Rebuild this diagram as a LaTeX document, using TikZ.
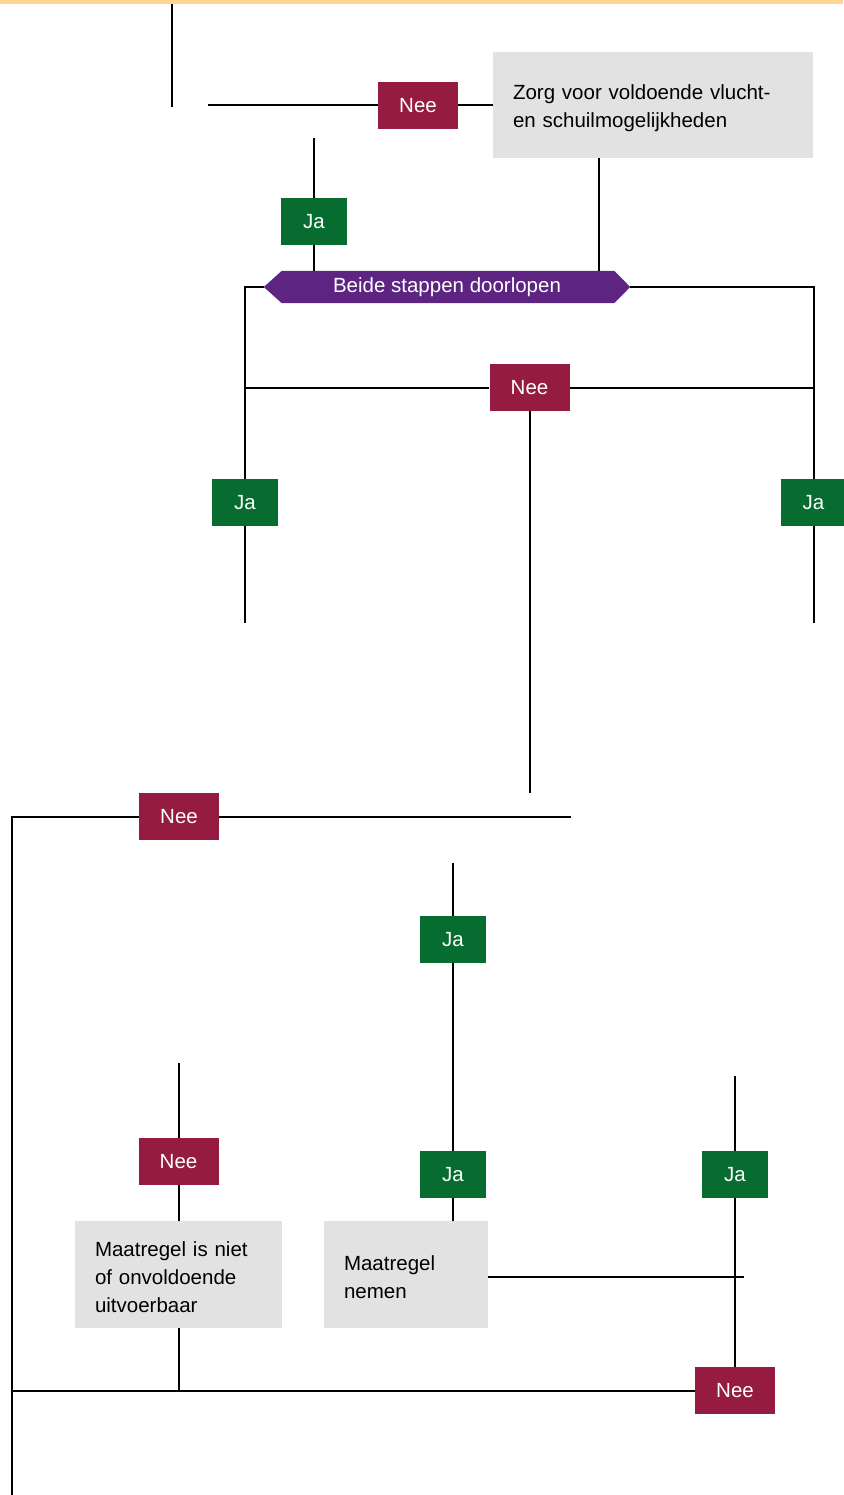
\documentclass[tikz,border=0pt]{standalone}
\usepackage{fontspec}
\setmainfont{Liberation Sans}
\usetikzlibrary{backgrounds}
\definecolor{neecol}{HTML}{951C40}
\definecolor{jacol}{HTML}{066C2F}
\definecolor{hexcol}{HTML}{5D2482}
\definecolor{boxcol}{HTML}{E2E2E2}
\definecolor{stripecol}{HTML}{FFD591}
\tikzset{
  conn/.style={draw=black, line width=2pt},
  neebox/.style={rectangle, fill=neecol, text=white, minimum width=80pt, minimum height=47pt, inner sep=0pt, font=\fontsize{20.5}{24}\selectfont},
  jabox/.style={rectangle, fill=jacol, text=white, minimum width=66pt, minimum height=47pt, inner sep=0pt, font=\fontsize{20.5}{24}\selectfont},
  infobox/.style={rectangle, fill=boxcol, text=black, inner xsep=20pt, inner ysep=0pt, align=left, font=\fontsize{20.5}{28}\selectfont, execute at begin node=\rule{0pt}{20.5pt}},
  hexlabel/.style={rectangle, text=white, minimum width=366pt, minimum height=32pt, inner sep=0pt, font=\fontsize{20.5}{24}\selectfont}
}
\begin{document}
\begin{tikzpicture}[x=1pt,y=-1pt]
\useasboundingbox (0,0) rectangle (843,1495);
\fill[stripecol] (0,0) rectangle (843,4);

% boxes
\node[infobox, minimum width=320pt, minimum height=106pt, text width=280pt] (box1) at (653,105) {Zorg voor voldoende vlucht-\\en schuilmogelijkheden};
\node[infobox, minimum width=207pt, minimum height=107pt, text width=167pt] (box2) at (178.5,1274.5) {Maatregel is niet\\of onvoldoende\\uitvoerbaar};
\node[infobox, minimum width=164pt, minimum height=107pt, text width=124pt] (box3) at (406,1274.5) {Maatregel\\nemen};

% hexagon
\node[hexlabel] (hex) at (447,287) {Beide stappen doorlopen};
\begin{scope}[on background layer]
\fill[hexcol] (hex.west) -- ([xshift=18pt]hex.north west) -- ([xshift=-16pt]hex.north east) -- (hex.east) -- ([xshift=-16pt]hex.south east) -- ([xshift=18pt]hex.south west) -- cycle;
\end{scope}

% labels
\node[neebox] (nee1) at (418,105.5) {Nee};
\node[jabox] (ja1) at (314,221.5) {Ja};
\node[neebox] (nee2) at (529.5,387.5) {Nee};
\node[jabox] (ja2) at (245,502.5) {Ja};
\node[jabox] (ja3) at (813.5,502.5) {Ja};
\node[neebox] (nee3) at (179,816.5) {Nee};
\node[jabox] (ja4) at (453,939.5) {Ja};
\node[neebox] (nee4) at (178.5,1161.5) {Nee};
\node[jabox] (ja5) at (453,1174.5) {Ja};
\node[jabox] (ja6) at (735,1174.5) {Ja};
\node[neebox] (nee5) at (735,1390.5) {Nee};

% free ends
\coordinate (t0) at (172,4);
\coordinate (t1) at (172,107);
\coordinate (a0) at (208,105.5);
\coordinate (b0) at (314,138);
\coordinate (c0) at (599,0);
\coordinate (lft) at (245,623);
\coordinate (rgt) at (813.5,623);
\coordinate (d1) at (529.5,793);
\coordinate (e0) at (12,1495);
\coordinate (e1) at (571,816.5);
\coordinate (f0) at (453,863);
\coordinate (g1) at (744,1276.5);
\coordinate (h0) at (735,1076);
\coordinate (k0) at (178.5,1063);

% connectors
\begin{scope}[on background layer]
\draw[conn] (t0) -- (t1);
\draw[conn] (a0) -- (nee1.west);
\draw[conn] (nee1.east) -- (box1.west |- nee1.east);
\draw[conn] (b0) -- (ja1.north);
\draw[conn] (ja1.south) -- (ja1.south |- hex.north);
\draw[conn] (c0 |- box1.south) -- (c0 |- hex.north);
\draw[conn] (hex.west) -| (ja2.north);
\draw[conn] (ja2.south) -- (lft);
\draw[conn] (hex.east) -| (ja3.north);
\draw[conn] (ja3.south) -- (rgt);
\draw[conn] (ja2.north |- nee2.west) -- (nee2.west);
\draw[conn] (nee2.east) -- (ja3.north |- nee2.east);
\draw[conn] (nee2.south) -- (d1);
\draw[conn] (e0) |- (nee3.west);
\draw[conn] (nee3.east) -- (e1);
\draw[conn] (f0) -- (ja4.north);
\draw[conn] (ja4.south) -- (ja5.north);
\draw[conn] (ja5.south) -- (ja5.south |- box3.north);
\draw[conn] (box3.east |- g1) -- (g1);
\draw[conn] (h0) -- (ja6.north);
\draw[conn] (ja6.south) -- (nee5.north);
\draw[conn] (k0) -- (nee4.north);
\draw[conn] (nee4.south) -- (nee4.south |- box2.north);
\draw[conn] (box2.south) -- (box2.south |- nee5.west);
\draw[conn] (e0 |- nee5.west) -- (nee5.west);
\end{scope}
\end{tikzpicture}
\end{document}
